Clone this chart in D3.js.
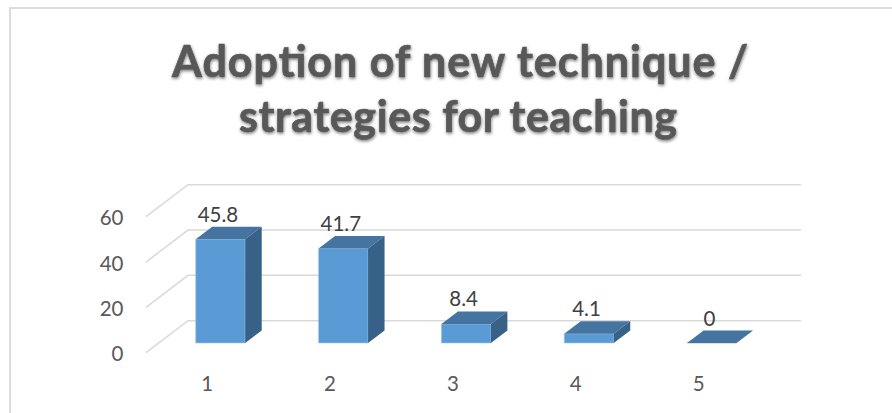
<!DOCTYPE html>
<html><head><meta charset="utf-8">
<script src="https://cdn.jsdelivr.net/npm/d3@7"></script>
<style>html,body{margin:0;padding:0;background:#fff}svg{display:block}</style>
</head><body><svg id="c" width="892" height="413"></svg>
<script>
const titleLines = ["Adoption of new technique /", "strategies for teaching"];
const titleWidths = [576, 438];
const categories = ["1", "2", "3", "4", "5"];
const values = [45.8, 41.7, 8.4, 4.1, 0];
const yTicks = [0, 20, 40, 60];

const svg = d3.select("#c");
const font = "Lato, sans-serif";
const depth = {floorX: 42, floorY: -32, barX: 16.5, barY: -12.5};
const y = d3.scaleLinear().domain([0, 60]).range([352.7, 216.7]);
const x = d3.scaleBand().domain(categories).range([195.7, 736.6]).paddingInner(0.597);

const f = svg.append("defs").append("filter").attr("id", "sh")
  .attr("x", "-10%").attr("y", "-20%").attr("width", "120%").attr("height", "150%");
f.append("feDropShadow").attr("dx", 0.5).attr("dy", 1.5).attr("stdDeviation", 1.5)
  .attr("flood-color", "#000").attr("flood-opacity", 0.5);

svg.append("path").attr("d", "M10 413V8H892").attr("fill", "none")
  .attr("stroke", "#dcdcdc").attr("stroke-width", 2);

yTicks.forEach(t => {
  const y0 = y(t);
  svg.append("path")
    .attr("d", `M146 ${y0}L${146 + depth.floorX} ${y0 + depth.floorY}H801`)
    .attr("fill", "none").attr("stroke", "#d9d9d9").attr("stroke-width", 1.5);
  svg.append("text").attr("x", 123.5).attr("y", y0 + 8.7).attr("text-anchor", "end")
    .attr("font-family", font).attr("font-size", 20.5).attr("fill", "#595959").text(t);
});

const base = y(0) - 9.7;
const unit = y(0) - y(1);
const bars = svg.append("g").selectAll("g").data(values).join("g");
bars.append("path").attr("fill", "#5b9bd5").attr("stroke", "#a5c8e8").attr("stroke-width", 0.6).attr("d", (d, i) => {
  const l = x(categories[i]), w = x.bandwidth();
  return `M${l} ${base}h${w}v${-d * unit}h${-w}z`;
});
bars.append("path").attr("fill", "#44749f").attr("d", (d, i) => {
  const l = x(categories[i]), w = x.bandwidth(), t = base - d * unit;
  return `M${l} ${t}h${w}l${depth.barX} ${depth.barY}h${-w}z`;
});
bars.append("path").attr("fill", "#376186").attr("d", (d, i) => {
  const l = x(categories[i]), w = x.bandwidth(), t = base - d * unit;
  return `M${l + w} ${t}v${d * unit}l${depth.barX} ${depth.barY}v${-d * unit}z`;
});
bars.append("text").attr("x", (d, i) => x(categories[i]) + x.bandwidth() / 2 - 2.5)
  .attr("y", d => base - d * unit - 17.5).attr("text-anchor", "middle")
  .attr("font-family", font).attr("font-size", 20.5).attr("fill", "#404040").text(d => d);

svg.append("g").selectAll("text").data(categories).join("text")
  .attr("x", d => x(d) + 11.5).attr("y", 391).attr("text-anchor", "middle")
  .attr("font-family", font).attr("font-size", 20.5).attr("fill", "#595959").text(d => d);

svg.append("g").attr("filter", "url(#sh)").selectAll("text").data(titleLines).join("text")
  .attr("x", (d, i) => i ? 458 : 460).attr("y", (d, i) => i ? 131.7 : 76.7).attr("text-anchor", "middle")
  .attr("textLength", (d, i) => titleWidths[i]).attr("lengthAdjust", "spacing")
  .attr("font-family", font).attr("font-weight", 700).attr("font-size", 43)
  .attr("stroke", "#595959").attr("stroke-width", 0.7).attr("fill", "#595959").text(d => d);
</script></body></html>
